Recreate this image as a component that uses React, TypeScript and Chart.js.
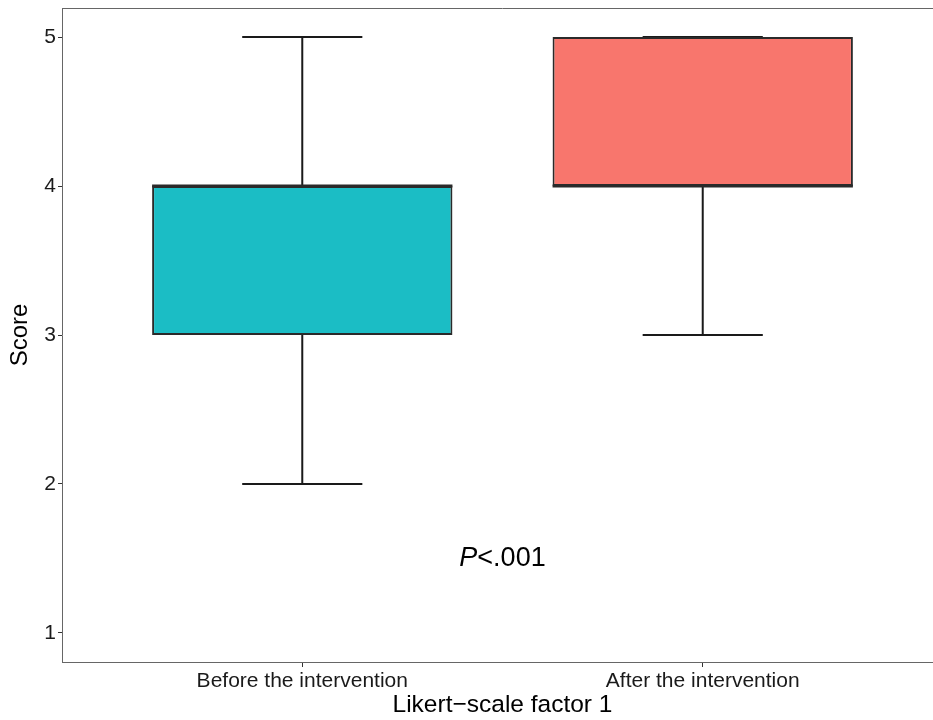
import React, { useEffect, useRef } from "react";
import { Chart, registerables } from "chart.js";

Chart.register(...registerables);

const categories = ["Before the intervention", "After the intervention"];
const positions = [1, 2];
const whiskerMin = [2, 3];
const q1 = [3, 4];
const medians = [4, 4];
const q3 = [4, 5];
const whiskerMax = [5, 5];
const fillColors = ["#1BBDC5", "#F8766D"];
const yTicks = [1, 2, 3, 4, 5];
const annotationText = ["P", "<.001"];
const annotationPos = { x: 1.5, y: 1.5 };

const FONT = "'Liberation Sans', Arial, Helvetica, sans-serif";

const boxPlugin = {
  id: "boxExtras",
  beforeDatasetsDraw(chart: any) {
    const { ctx, scales } = chart;
    const xs = scales.x;
    const ys = scales.y;
    ctx.save();
    ctx.strokeStyle = "#1a1a1a";
    ctx.lineWidth = 2;
    positions.forEach((p, i) => {
      const cx = xs.getPixelForValue(p);
      const capL = xs.getPixelForValue(p - 0.15);
      const capR = xs.getPixelForValue(p + 0.15);
      const yMin = ys.getPixelForValue(whiskerMin[i]);
      const yMax = ys.getPixelForValue(whiskerMax[i]);
      const yq1 = ys.getPixelForValue(q1[i]);
      const yq3 = ys.getPixelForValue(q3[i]);
      ctx.beginPath();
      ctx.moveTo(cx, yq3);
      ctx.lineTo(cx, yMax);
      ctx.moveTo(capL, yMax);
      ctx.lineTo(capR, yMax);
      ctx.moveTo(cx, yq1);
      ctx.lineTo(cx, yMin);
      ctx.moveTo(capL, yMin);
      ctx.lineTo(capR, yMin);
      ctx.stroke();
    });
    ctx.restore();
  },
  afterDatasetsDraw(chart: any) {
    const { ctx, scales, chartArea } = chart;
    const xs = scales.x;
    const ys = scales.y;
    ctx.save();
    ctx.strokeStyle = "#2a2a2a";
    ctx.lineWidth = 3;
    positions.forEach((p, i) => {
      const l = xs.getPixelForValue(p - 0.375);
      const r = xs.getPixelForValue(p + 0.375);
      const y = ys.getPixelForValue(medians[i]);
      ctx.beginPath();
      ctx.moveTo(l, y);
      ctx.lineTo(r, y);
      ctx.stroke();
    });
    // top border line
    ctx.strokeStyle = "#666666";
    ctx.lineWidth = 1;
    ctx.beginPath();
    ctx.moveTo(chartArea.left, chartArea.top + 0.5);
    ctx.lineTo(chartArea.right, chartArea.top + 0.5);
    ctx.stroke();
    // annotation
    const ax = xs.getPixelForValue(annotationPos.x);
    const ay = ys.getPixelForValue(annotationPos.y);
    ctx.fillStyle = "#000000";
    ctx.textBaseline = "middle";
    ctx.font = `italic 27px ${FONT}`;
    const w1 = ctx.measureText(annotationText[0]).width;
    ctx.font = `27px ${FONT}`;
    const w2 = ctx.measureText(annotationText[1]).width;
    const start = ax - (w1 + w2) / 2;
    ctx.font = `italic 27px ${FONT}`;
    ctx.textAlign = "left";
    ctx.fillText(annotationText[0], start, ay);
    ctx.font = `27px ${FONT}`;
    ctx.fillText(annotationText[1], start + w1, ay);
    ctx.restore();
  },
};

export default function App() {
  const ref = useRef<HTMLCanvasElement>(null);
  useEffect(() => {
    if (!ref.current) return;
    const chart = new Chart(ref.current, {
      type: "bar",
      data: {
        datasets: [
          {
            data: positions.map((p, i) => ({ x: p, y: [q1[i], q3[i]] })) as any,
            backgroundColor: fillColors,
            borderColor: "#2a2a2a",
            borderWidth: 2,
            borderSkipped: false,
            barPercentage: 0.75,
            categoryPercentage: 1,
          },
        ],
      },
      options: {
        responsive: false,
        animation: false,
        layout: { padding: { top: 8, right: 1, left: 0, bottom: 0 } },
        plugins: { legend: { display: false }, tooltip: { enabled: false } },
        scales: {
          x: {
            type: "linear",
            offset: false,
            min: 0.4,
            max: 2.6,
            afterBuildTicks: (s: any) => {
              s.ticks = positions.map((v) => ({ value: v }));
            },
            afterFit: (s: any) => {
              s.height = 58;
              s.paddingLeft = 0;
              s.paddingRight = 0;
            },
            ticks: {
              callback: (v: any) => {
                const i = positions.indexOf(Number(v));
                return i >= 0 ? categories[i] : "";
              },
              color: "#1a1a1a",
              font: { family: FONT, size: 21 },
              padding: 2,
              maxRotation: 0,
              autoSkip: false,
            },
            grid: {
              display: true,
              offset: false,
              drawOnChartArea: false,
              drawTicks: true,
              tickLength: 5,
              color: "#333333",
            },
            border: { display: true, color: "#666666", width: 1 },
            title: {
              display: true,
              text: "Likert\u2212scale factor 1",
              color: "#000000",
              font: { family: FONT, size: 24.5 },
              padding: { top: 0, bottom: 0 },
            },
          },
          y: {
            type: "linear",
            min: 0.805,
            max: 5.195,
            afterBuildTicks: (s: any) => {
              s.ticks = yTicks.map((v) => ({ value: v }));
            },
            afterFit: (s: any) => {
              s.width = 62;
              s.paddingTop = 0;
              s.paddingBottom = 0;
            },
            ticks: {
              color: "#1a1a1a",
              font: { family: FONT, size: 21 },
              padding: 2,
            },
            grid: {
              display: true,
              drawOnChartArea: false,
              drawTicks: true,
              tickLength: 4,
              color: "#333333",
            },
            border: { display: true, color: "#666666", width: 1 },
            title: {
              display: true,
              text: "Score",
              color: "#000000",
              font: { family: FONT, size: 24 },
              padding: { top: 6, bottom: 0 },
            },
          },
        },
      },
      plugins: [boxPlugin],
    });
    return () => chart.destroy();
  }, []);
  return (
    <div style={{ position: "fixed", left: 0, top: 0, width: 933, height: 720, overflow: "hidden", background: "#fff" }}>
      <canvas ref={ref} width={944} height={720} style={{ width: 944, height: 720, display: "block" }} />
    </div>
  );
}
